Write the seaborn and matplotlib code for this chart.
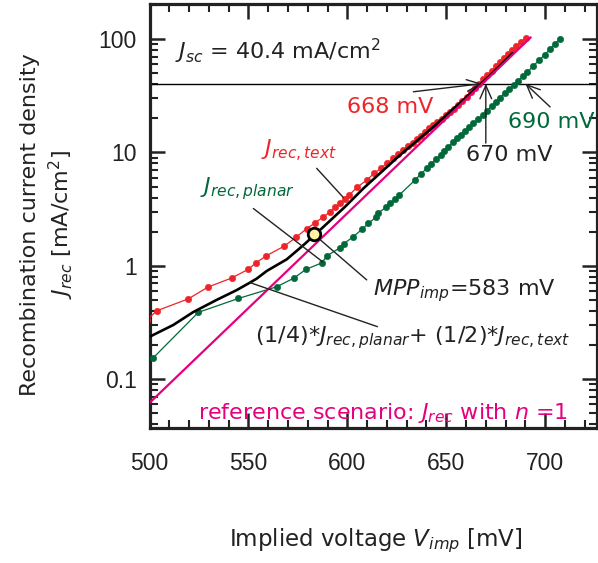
import matplotlib
matplotlib.use("Agg")
import matplotlib.pyplot as plt
import numpy as np
import pandas as pd
import seaborn as sns
from matplotlib.ticker import FixedLocator, FuncFormatter, LogLocator, MultipleLocator, NullFormatter

# ---- data -------------------------------------------------------------
# textured-cell recombination current J_rec,text  [mV, mA/cm^2]
v_text = [498.5, 503.6, 519.6, 529.7, 541.6, 549.9, 553.8, 558.9, 568.1, 574.1,
          579.5, 583.7, 587.9, 591.3, 593.8, 596.3, 598.8, 601.0, 604.8, 609.8,
          613.5, 616.9, 620.2, 623.3, 625.8, 628.3, 630.8, 633.1, 635.1, 637.1,
          639.3, 641.5, 643.5, 645.5, 647.7, 649.7, 651.9, 653.9, 656.1, 658.2,
          660.3, 662.4, 664.5, 666.6, 668.7, 670.8, 672.9, 675.0, 677.1, 679.2,
          681.3, 683.4, 685.5, 687.6, 690.2]
j_text = [0.33, 0.40, 0.51, 0.65, 0.78, 0.93, 1.06, 1.22, 1.49, 1.78,
          2.13, 2.39, 2.70, 2.99, 3.27, 3.55, 3.87, 4.20, 4.91, 5.70,
          6.53, 7.23, 8.10, 8.85, 9.60, 10.5, 11.4, 12.2, 13.1, 14.0,
          15.0, 16.3, 17.4, 18.6, 19.9, 21.3, 22.8, 24.4, 26.4, 28.6,
          31.0, 33.8, 36.8, 40.3, 44.0, 48.0, 52.5, 57.5, 62.5, 68.0,
          74.0, 80.0, 86.5, 93.5, 103.0]

# planar-cell recombination current J_rec,planar
v_planar = [501.9, 524.7, 544.9, 564.3, 573.1, 579.1, 587.1, 589.6, 596.3, 598.3,
            603.0, 607.3, 610.6, 614.7, 615.7, 619.5, 621.8, 624.1, 626.2, 634.2,
            637.1, 640.1, 642.3, 644.8, 647.2, 648.9, 651.0, 653.6, 655.3, 657.3,
            659.5, 661.5, 663.7, 666.2, 668.5, 670.5, 673.0, 675.0, 677.2, 679.5,
            681.8, 684.1, 686.4, 688.7, 691.0, 693.8, 696.8, 699.8, 702.3, 704.8,
            707.5]
j_planar = [0.154, 0.388, 0.514, 0.652, 0.78, 0.93, 1.06, 1.22, 1.44, 1.57,
            1.80, 2.09, 2.36, 2.70, 2.93, 3.27, 3.55, 3.85, 4.20, 5.70,
            6.43, 7.22, 7.84, 8.79, 9.47, 10.3, 11.2, 12.3, 13.3, 14.2,
            15.4, 16.6, 18.0, 19.7, 21.3, 23.3, 25.6, 28.0, 30.5, 33.3,
            36.2, 39.5, 43.0, 46.8, 51.0, 57.5, 64.8, 73.0, 81.0, 90.0,
            101.0]

# weighted combination (1/4)*J_rec,planar + (1/2)*J_rec,text
v_comb = [500.0, 512.0, 522.1, 534.0, 544.1, 550.8, 554.2, 559.3, 569.4, 577.8,
          584.5, 598.8, 608.1, 626.6, 643.5, 658.6, 672.0, 678.0, 683.5]
j_comb = [0.236, 0.30, 0.39, 0.50, 0.61, 0.71, 0.77, 0.90, 1.14, 1.52,
          1.94, 3.31, 4.81, 9.46, 16.8, 29.0, 47.5, 60.0, 75.0]

# reference scenario, ideality factor n = 1
v_ref = [500.0, 692.7]
j_ref = [0.0616, 103.5]

# short-circuit current and characteristic voltages
J_SC = 40.4
V_OC_TEXT = 668
V_OC_COMB = 670
V_OC_PLANAR = 690
V_MPP = 583
J_MPP = 1.9

y_ticks = [0.1, 1, 10, 100]
x_ticks = [500, 550, 600, 650, 700]

RED = "#EE2428"
GREEN = "#00693A"
MAGENTA = "#E5007D"
INK = "#222222"

# ---- style ------------------------------------------------------------
sns.set_theme(style="ticks")
plt.rcParams["font.family"] = ["DejaVu Sans"]
plt.rcParams["mathtext.fontset"] = "dejavusans"

W, H = 598, 563
fig = plt.figure(figsize=(W / 100, H / 100), dpi=100)
ax = fig.add_axes([149.5 / W, 1 - 428 / H, (597 - 149.5) / W, (428 - 4) / H])

df_text = pd.DataFrame({"V": v_text, "J": j_text})
df_planar = pd.DataFrame({"V": v_planar, "J": j_planar})
df_comb = pd.DataFrame({"V": v_comb, "J": j_comb})
df_ref = pd.DataFrame({"V": v_ref, "J": j_ref})

sns.lineplot(data=df_planar, x="V", y="J", ax=ax, color=GREEN, lw=0.9,
             marker="o", markersize=4.6, markeredgecolor=GREEN,
             markeredgewidth=0.4, sort=False, estimator=None, zorder=3)
sns.lineplot(data=df_text, x="V", y="J", ax=ax, color=RED, lw=0.9,
             marker="o", markersize=4.6, markeredgecolor=RED,
             markeredgewidth=0.4, sort=False, estimator=None, zorder=3)
sns.lineplot(data=df_comb, x="V", y="J", ax=ax, color="black", lw=1.9,
             sort=False, estimator=None, zorder=4)
sns.lineplot(data=df_ref, x="V", y="J", ax=ax, color=MAGENTA, lw=1.6,
             sort=False, estimator=None, zorder=5)

ax.axhline(J_SC, color="black", lw=1.0, zorder=2)

ax.plot([V_MPP], [J_MPP], marker="o", markersize=9, markerfacecolor="#FFF4A6",
        markeredgecolor="black", markeredgewidth=2.0, zorder=7, clip_on=False)

# ---- axes -------------------------------------------------------------
ax.set_yscale("log")
ax.set_xlim(500, 726.2)
ax.set_ylim(0.037, 204)

ax.xaxis.set_major_locator(FixedLocator(x_ticks))
ax.xaxis.set_minor_locator(MultipleLocator(10))
ax.yaxis.set_major_locator(FixedLocator(y_ticks))
ax.yaxis.set_major_formatter(FuncFormatter(lambda v, p: f"{v:g}"))
ax.yaxis.set_minor_locator(LogLocator(base=10, subs=np.arange(2, 10)))
ax.yaxis.set_minor_formatter(NullFormatter())

ax.tick_params(which="both", direction="in", top=True, right=True, colors=INK)
ax.tick_params(which="major", length=11, width=1.8, labelsize=16.5,
               labelcolor=INK, labelfontfamily="Liberation Sans")
ax.tick_params(axis="x", which="major", pad=17)
ax.tick_params(axis="y", which="major", pad=9)
ax.tick_params(which="minor", length=5.5, width=1.5)
for s in ax.spines.values():
    s.set_linewidth(2.3)
    s.set_color(INK)

ax.set_xlabel("Implied voltage $V_{imp}$ [mV]", fontsize=16.5, color=INK)
ax.xaxis.set_label_coords(0.506, -0.232)
ax.set_ylabel("Recombination current density\n$J_{rec}$ [mA/cm$^2$]",
              fontsize=16, color=INK, linespacing=1.3)
ax.yaxis.set_label_coords(-0.165, 0.48)

# ---- annotations ------------------------------------------------------
FS = 16
ax.text(512.9, 66.6, f"$J_{{sc}}$ = {J_SC} mA/cm$^2$", fontsize=FS,
        color=INK, va="baseline", ha="left")
ax.text(599.7, 22.4, f"{V_OC_TEXT} mV", fontsize=FS, color=RED,
        va="baseline", ha="left")
ax.text(660.1, 8.4, f"{V_OC_COMB} mV", fontsize=FS, color=INK,
        va="baseline", ha="left")
ax.text(681.2, 16.3, f"{V_OC_PLANAR} mV", fontsize=FS, color=GREEN,
        va="baseline", ha="left", clip_on=False)
ax.text(556.2, 9.2, "$J_{rec,text}$", fontsize=FS, color=RED,
        va="baseline", ha="left")
ax.text(525.5, 4.38, "$J_{rec,planar}$", fontsize=FS, color=GREEN,
        va="baseline", ha="left")
ax.text(613.2, 0.55, f"$MPP_{{imp}}$={V_MPP} mV", fontsize=FS,
        color=INK, va="baseline", ha="left")
ax.text(553.3, 0.212, "(1/4)*$J_{rec,planar}$+ (1/2)*$J_{rec,text}$",
        fontsize=FS, color=INK, va="baseline", ha="left")
ax.text(524.7, 0.0443, "reference scenario: $J_{rec}$ with $n$ =1",
        fontsize=FS, color=MAGENTA, va="baseline", ha="left")

arrow = dict(arrowstyle="->,head_length=0.8,head_width=0.35", color=INK,
             lw=1.0, shrinkA=0, shrinkB=0)
plain = dict(arrowstyle="-", color=INK, lw=1.0, shrinkA=0, shrinkB=0)

ax.annotate("", xy=(V_OC_TEXT, J_SC), xytext=(633.4, 34.3), arrowprops=arrow,
            zorder=6)
ax.annotate("", xy=(V_OC_COMB, J_SC), xytext=(V_OC_COMB, 12.1), arrowprops=arrow,
            zorder=6)
ax.annotate("", xy=(V_OC_PLANAR, J_SC), xytext=(702.5, 25.2), arrowprops=arrow,
            zorder=6)

ax.annotate("", xy=(598.0, 4.0), xytext=(584.5, 7.24), arrowprops=plain, zorder=6)
ax.annotate("", xy=(587.6, 1.08), xytext=(552.5, 3.2), arrowprops=plain, zorder=6)
ax.annotate("", xy=(609.8, 0.75), xytext=(V_MPP, J_MPP), arrowprops=plain, zorder=6)
ax.annotate("", xy=(615.2, 0.29), xytext=(550.8, 0.71), arrowprops=plain, zorder=6)

fig.savefig("out.png", dpi=100)
